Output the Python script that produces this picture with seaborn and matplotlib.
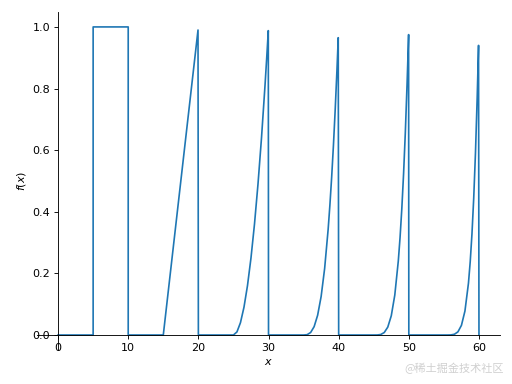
import matplotlib
matplotlib.use("Agg")
import matplotlib.pyplot as plt
import seaborn as sns
import numpy as np
import pandas as pd

# --- data (piecewise curve) ---
flat0_x = [0.0, 5.0]
flat0_y = [0.0, 0.0]
step_x = [5.0, 5.0, 10.0, 10.0]
step_y = [0.0, 1.0, 1.0, 0.0]
lin_x = [15.0, 19.95, 20.0]
lin_y = [0.0, 0.99, 0.0]
quad_x = [25.0, 25.5, 26.0, 26.5, 27.0, 27.5, 28.0, 28.5, 29.0, 29.5, 29.75, 29.97, 30.0]
quad_y = [0.0, 0.01, 0.04, 0.09, 0.16, 0.25, 0.36, 0.49, 0.64, 0.81, 0.9025, 0.988, 0.0]
cub_x = [35.0, 35.5, 36.0, 36.5, 37.0, 37.5, 38.0, 38.5, 38.75, 39.0, 39.25, 39.5, 39.75, 39.94, 40.0]
cub_y = [0.0, 0.001, 0.008, 0.027, 0.064, 0.125, 0.216, 0.343, 0.422, 0.512, 0.614, 0.729, 0.857, 0.965, 0.0]
quart_x = [45.0, 45.5, 46.0, 46.5, 47.0, 47.5, 48.0, 48.5, 48.75, 49.0, 49.25, 49.5, 49.75, 49.9, 49.97, 50.0]
quart_y = [0.0, 0.0001, 0.0016, 0.0081, 0.0256, 0.0625, 0.1296, 0.2401, 0.3164, 0.4096, 0.522, 0.6561, 0.8145, 0.922, 0.975, 0.0]
quint_x = [55.0, 55.5, 56.0, 56.5, 57.0, 57.5, 58.0, 58.5, 58.75, 59.0, 59.25, 59.5, 59.75, 59.9, 59.94, 60.0]
quint_y = [0.0, 0.00001, 0.0003, 0.0024, 0.0102, 0.0313, 0.0778, 0.168, 0.2373, 0.3277, 0.4437, 0.5905, 0.774, 0.904, 0.94, 0.0]
gap_x = [[10.0, 15.0], [20.0, 25.0], [30.0, 35.0], [40.0, 45.0], [50.0, 55.0]]

xs = flat0_x + step_x + gap_x[0] + lin_x + gap_x[1] + quad_x + gap_x[2] + cub_x + gap_x[3] + quart_x + gap_x[4] + quint_x
ys = flat0_y + step_y + [0.0, 0.0] + lin_y + [0.0, 0.0] + quad_y + [0.0, 0.0] + cub_y + [0.0, 0.0] + quart_y + [0.0, 0.0] + quint_y
df = pd.DataFrame({"x": xs, "y": ys})

fig = plt.figure(figsize=(6.4, 4.8), dpi=80)
ax = fig.add_axes([0.0723, 0.0875, 0.9043, 0.8825])
sns.lineplot(data=df, x="x", y="y", sort=False, estimator=None, ax=ax,
             color="#1f77b4", linewidth=1.5)

ax.set_xlim(-3, 63)
ax.set_ylim(-0.05, 1.05)
ax.set_xticks([0, 10, 20, 30, 40, 50, 60])
ax.set_yticks([0.0, 0.2, 0.4, 0.6, 0.8, 1.0])
ax.set_yticklabels(["0.0", "0.2", "0.4", "0.6", "0.8", "1.0"])
ax.spines["left"].set_position(("data", 0))
ax.spines["bottom"].set_position(("data", 0))
ax.spines["top"].set_visible(False)
ax.spines["right"].set_visible(False)
ax.set_xlabel("$x$")
ax.set_ylabel("$f(x)$")
ax.tick_params(labelsize=10)

fig.text(0.985, 0.025, "@稀土掘金技术社区", ha="right", va="bottom",
         fontsize=10, color="#d0d0d0", family=["Noto Sans CJK SC", "DejaVu Sans"])

fig.savefig("out.png", dpi=80)
